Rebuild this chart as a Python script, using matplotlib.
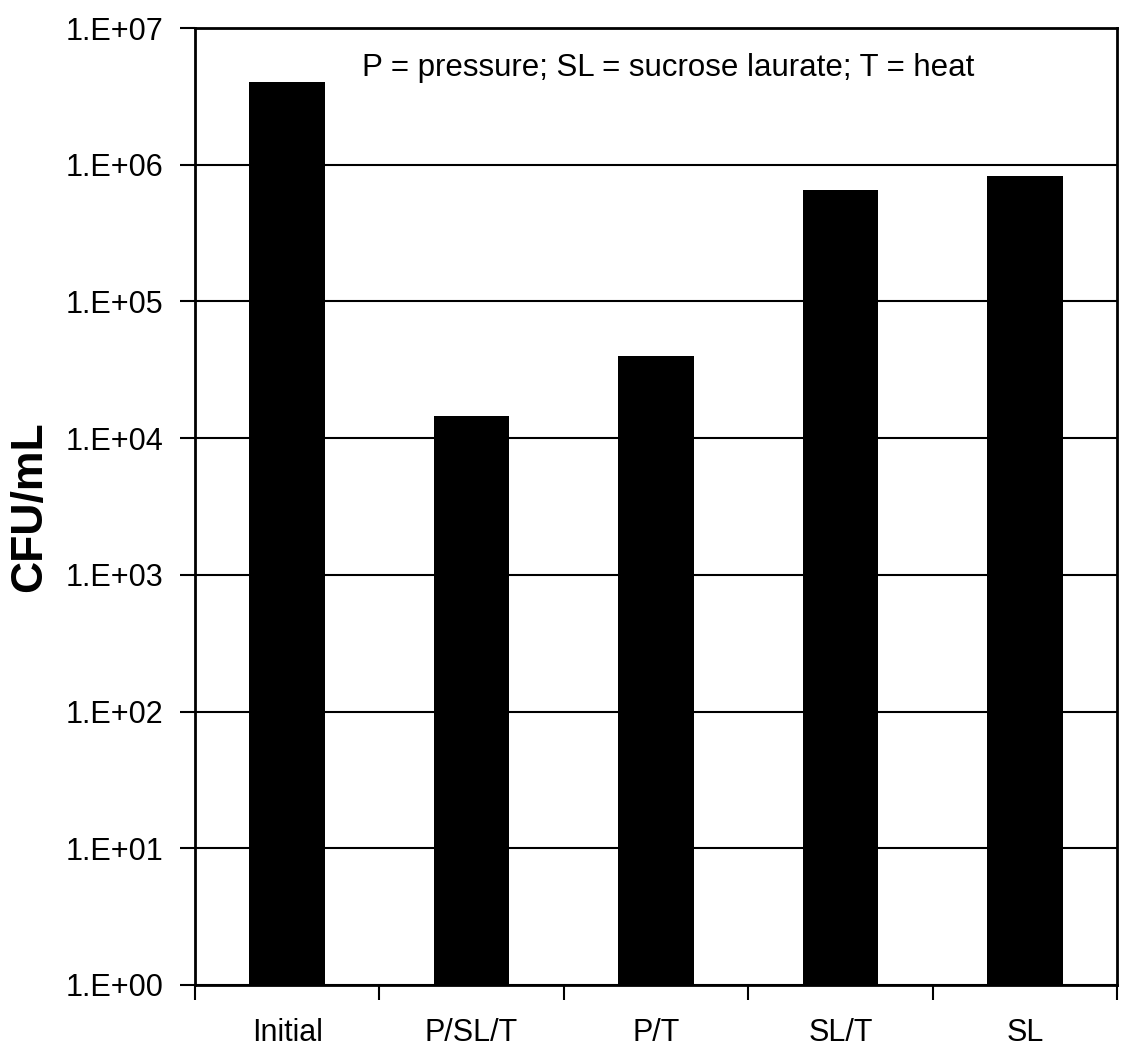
import matplotlib
matplotlib.use("Agg")
import matplotlib.pyplot as plt
import numpy as np

categories = ["Initial", "P/SL/T", "P/T", "SL/T", "SL"]
cfu_values = [4.0e6, 1.45e4, 4.0e4, 6.5e5, 8.3e5]
ytick_values = [1e0, 1e1, 1e2, 1e3, 1e4, 1e5, 1e6, 1e7]
ytick_labels = ["1.E+00", "1.E+01", "1.E+02", "1.E+03", "1.E+04", "1.E+05", "1.E+06", "1.E+07"]

plt.rcParams['font.family'] = ['Liberation Sans', 'DejaVu Sans']

fig = plt.figure(figsize=(11.29, 10.53), dpi=100)
ax = fig.add_axes([0.1727, 0.0646, 0.9894 - 0.1727, 0.9734 - 0.0646])

x = np.arange(len(categories))
ax.bar(x, cfu_values, width=0.41, color='black', zorder=3)

ax.set_yscale('log')
ax.set_ylim(1e0, 1e7)
ax.set_xlim(-0.5, len(categories) - 0.5)

ax.set_yticks(ytick_values)
ax.set_yticklabels(ytick_labels, fontsize=22)
ax.yaxis.set_minor_locator(matplotlib.ticker.NullLocator())
ax.yaxis.grid(True, which='major', color='black', linewidth=1.5, zorder=1)

ax.set_xticks(x)
ax.set_xticklabels(categories, fontsize=22)
ax.set_xticks(np.arange(-0.5, len(categories)), minor=True)
ax.tick_params(axis='x', which='major', length=0, pad=24)
ax.tick_params(axis='x', which='minor', length=11, width=1.5, direction='out')
ax.tick_params(axis='y', which='major', length=11, width=1.5, direction='out', pad=12)

for side in ['left', 'bottom', 'right', 'top']:
    ax.spines[side].set_linewidth(2)
    ax.spines[side].set_color('black')

ax.set_ylabel("CFU/mL", fontsize=32, fontweight='bold')
ax.yaxis.set_label_coords(-0.157, 0.5)

ax.text(0.513, 0.958, "P = pressure; SL = sucrose laurate; T = heat",
        transform=ax.transAxes, ha='center', va='center', fontsize=22.5)

fig.savefig("out.png", dpi=100)
